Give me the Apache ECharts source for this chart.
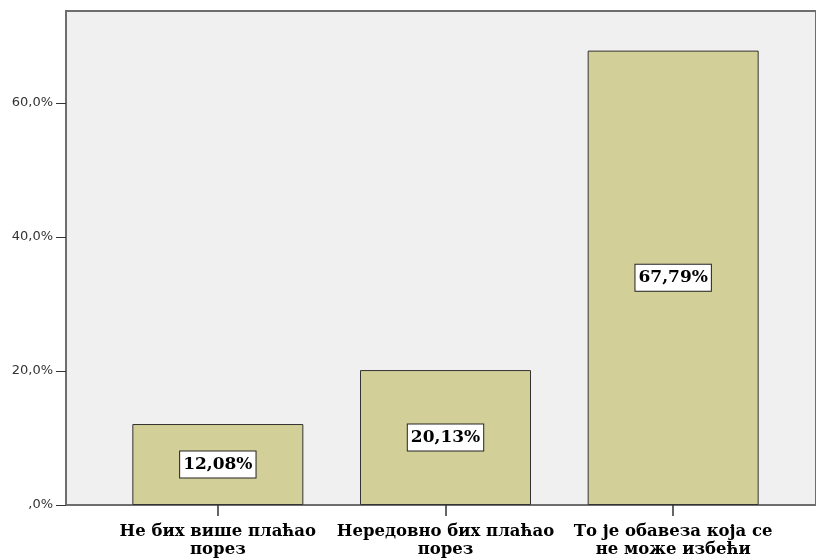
<!DOCTYPE html>
<html>
<head>
<meta charset="utf-8">
<script src="https://cdn.jsdelivr.net/npm/echarts@6/dist/echarts.min.js"></script>
<style>
  html, body { margin: 0; padding: 0; background: #fff; }
  #chart { width: 816px; height: 559px; }
</style>
</head>
<body>
<div id="chart"></div>
<script>
// categories and values
const categories = ['Не бих више плаћао\nпорез', 'Нередовно бих плаћао\nпорез', 'То је обавеза која се\nне може избећи']
const percents = [12.08, 20.13, 67.79]
const yMax = 73.7

const fmt = (v) => v.toFixed(2).replace('.', ',') + '%'

const chart = echarts.init(document.getElementById('chart'))

const option = {
  animation: false,
  grid: [
    // frame + y axis
    { left: 66, right: -5, top: 11, bottom: 54, show: true, backgroundColor: '#f0f0f0', borderColor: '#6e6e6e', borderWidth: 2 },
    // bars
    { left: 104, width: 683, top: 11, bottom: 54 }
  ],
  xAxis: [
    { gridIndex: 0, type: 'value', show: false },
    {
      gridIndex: 1,
      type: 'category',
      data: categories,
      axisLine: { show: false },
      axisTick: { show: true, alignWithLabel: true, length: 11, lineStyle: { color: '#333', width: 1.5 } },
      axisLabel: {
        interval: 0,
        margin: 18,
        color: '#000',
        fontFamily: 'DejaVu Serif',
        fontWeight: 'bold',
        fontSize: 16.5,
        lineHeight: 18
      }
    }
  ],
  yAxis: [
    {
      gridIndex: 0,
      type: 'value',
      min: 0,
      max: yMax,
      interval: 20,
      axisLine: { show: false },
      axisTick: { show: true, length: 10, lineStyle: { color: '#333' } },
      splitLine: { show: false },
      axisLabel: {
        showMaxLabel: false,
        margin: 13,
        color: '#333',
        fontFamily: 'DejaVu Sans',
        fontSize: 13,
        formatter: (v) => (v === 0 ? ',0%' : v.toFixed(1).replace('.', ',') + '%')
      }
    },
    { gridIndex: 1, type: 'value', min: 0, max: yMax, show: false }
  ],
  series: [
    {
      type: 'bar',
      xAxisIndex: 1,
      yAxisIndex: 1,
      data: percents,
      barWidth: 171,
      itemStyle: { color: '#d3cf98', borderColor: '#333', borderWidth: 1 },
      label: {
        show: true,
        position: 'inside',
        formatter: (p) => fmt(p.value),
        color: '#000',
        fontFamily: 'DejaVu Serif',
        fontWeight: 'bold',
        fontSize: 17,
        backgroundColor: '#fff',
        borderColor: '#222',
        borderWidth: 1,
        padding: [5, 3, 4, 3]
      }
    }
  ]
}

chart.setOption(option)
</script>
</body>
</html>
